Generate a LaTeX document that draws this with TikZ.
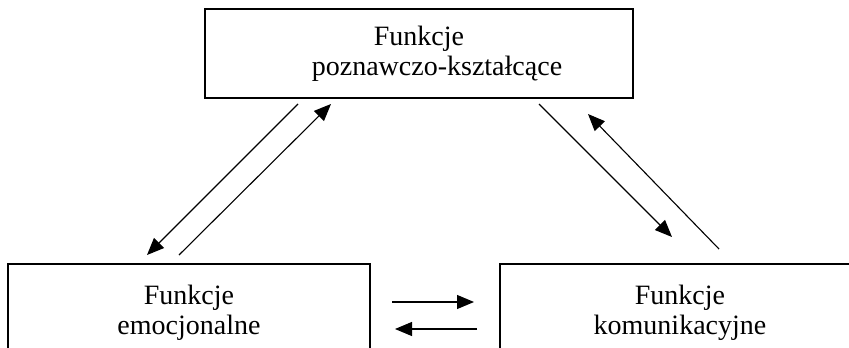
\documentclass[tikz,border=0pt]{standalone}
\usepackage{fontspec}
\setmainfont{Liberation Serif}
\usetikzlibrary{arrows.meta}
\begin{document}
\begin{tikzpicture}[x=1pt,y=-1pt,
  fbox/.style={draw=black, line width=1.4pt, rectangle, inner sep=0pt, align=center,
    font=\fontsize{28}{30}\selectfont},
  arr/.style={line width=1.1pt, -{Triangle[length=17pt,width=14pt]}}]
\useasboundingbox (0,0) rectangle (849,348);
\clip (0,0) rectangle (849,348);
\node[fbox, minimum width=428pt, minimum height=89pt] (top) at (419,53.5)
  {Funkcje\\\hspace*{36pt}poznawczo-kształcące};
\node[fbox, minimum width=362pt, minimum height=97pt] (left) at (189,312.5)
  {Funkcje\\emocjonalne};
\node[fbox, minimum width=360pt, minimum height=97pt] (right) at (680,312.5)
  {Funkcje\\komunikacyjne};
\coordinate (a1s) at (298,104); \coordinate (a1e) at (147,255);
\coordinate (a2s) at (179,255); \coordinate (a2e) at (331,104);
\coordinate (a3s) at (539,104); \coordinate (a3e) at (672,237);
\coordinate (a4s) at (719,249); \coordinate (a4e) at (588,114);
\coordinate (a5s) at (392,302); \coordinate (a5e) at (474,302);
\coordinate (a6s) at (477,329); \coordinate (a6e) at (395,329);
\draw[arr] (a1s) -- (a1e);
\draw[arr] (a2s) -- (a2e);
\draw[arr] (a3s) -- (a3e);
\draw[arr] (a4s) -- (a4e);
\draw[arr] (a5s) -- (a5e);
\draw[arr] (a6s) -- (a6e);
\end{tikzpicture}
\end{document}
